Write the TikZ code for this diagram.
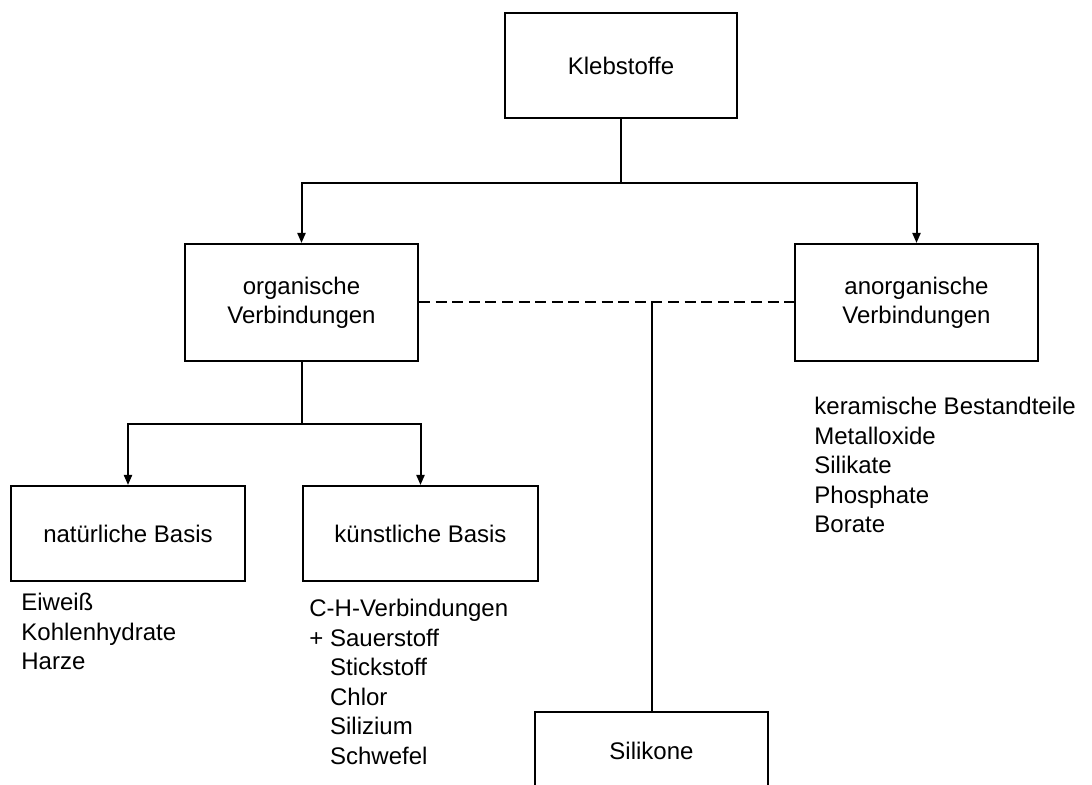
\documentclass[tikz,border=0pt]{standalone}
\usepackage{fontspec}
\setmainfont{Liberation Sans}
\usetikzlibrary{arrows.meta}
\begin{document}
\begin{tikzpicture}[x=0.5pt,y=-0.5pt,
  box/.style={draw, line width=1pt, inner sep=0pt, align=center, font=\fontsize{12}{14.5}\selectfont},
  list/.style={anchor=north west, inner sep=0pt, align=left, font=\fontsize{12}{14.75}\selectfont},
  conn/.style={line width=1pt},
  arr/.style={conn, -{Triangle[length=5pt,width=4pt]}}]
\useasboundingbox (0,0) rectangle (1092,785);
% boxes
\node[box, minimum width=116pt, minimum height=52.5pt] (kleb) at (621,65.5) {Klebstoffe};
\node[box, minimum width=116.5pt, minimum height=58.5pt] (org) at (301.5,302.5) {organische\\Verbindungen};
\node[box, minimum width=121.5pt, minimum height=58.5pt] (anorg) at (916.5,302.5) {anorganische\\Verbindungen};
\node[box, minimum width=117pt, minimum height=47.5pt] (nat) at (128,533.5) {natürliche Basis};
\node[box, minimum width=117.5pt, minimum height=47.5pt] (kuenst) at (420.5,533.5) {künstliche Basis};
\node[box, minimum width=116.5pt, minimum height=39pt, anchor=north] (sil) at (651.5,711) {Silikone};
% lists
\node[list] (natlist) at (21,593) {Eiweiß\\Kohlenhydrate\\Harze};
\node[list] (kuenstlist) at (309,599) {C-H-Verbindungen\\+ Sauerstoff\\\phantom{+ }Stickstoff\\\phantom{+ }Chlor\\\phantom{+ }Silizium\\\phantom{+ }Schwefel};
\node[list] (anorglist) at (814,397) {keramische Bestandteile\\Metalloxide\\Silikate\\Phosphate\\Borate};
% connectors
\coordinate (topbus) at (0,183);
\coordinate (orgbus) at (0,424);
\draw[conn] (kleb.south) -- (kleb.south |- topbus);
\draw[arr] (kleb.south |- topbus) -| (org.north);
\draw[arr] (kleb.south |- topbus) -| (anorg.north);
\draw[conn] (org.south) -- (org.south |- orgbus);
\draw[arr] (org.south |- orgbus) -| (nat.north);
\draw[arr] (org.south |- orgbus) -| (kuenst.north);
\draw[conn, dash pattern=on 5.5pt off 2.8pt] (org.east) -- (anorg.west);
\draw[conn] (sil.north) -- (sil.north |- org.east);
\end{tikzpicture}
\end{document}
